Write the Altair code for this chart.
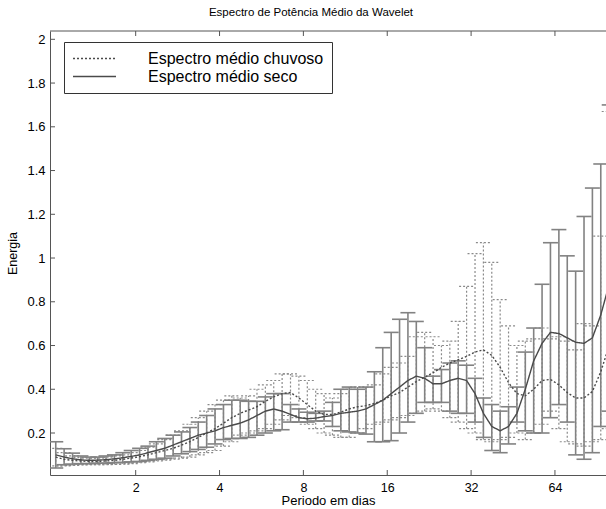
import altair as alt
import pandas as pd

# ---------------- data ----------------
periodo = [1.033, 1.107, 1.187, 1.272, 1.363, 1.461, 1.565, 1.678, 1.798, 1.927,
           2.066, 2.214, 2.373, 2.543, 2.726, 2.921, 3.131, 3.355, 3.596, 3.854,
           4.132, 4.428, 4.746, 5.086, 5.451, 5.842, 6.261, 6.710, 7.192, 7.708,
           8.264, 8.856, 9.492, 10.172, 10.902, 11.684, 12.522, 13.421, 14.384, 15.416,
           16.528, 17.713, 18.984, 20.345, 21.805, 23.368, 25.045, 26.842, 28.767, 30.831,
           33.056, 35.426, 37.968, 40.691, 43.610, 46.739, 50.090, 53.684, 57.535, 61.663,
           66.112, 70.853, 75.937, 81.383, 87.220, 93.478, 100.224]

chuvoso_media = [0.090, 0.080, 0.075, 0.072, 0.070, 0.070, 0.072, 0.075, 0.080, 0.085,
                 0.092, 0.100, 0.110, 0.120, 0.130, 0.145, 0.160, 0.180, 0.200, 0.220,
                 0.245, 0.270, 0.290, 0.305, 0.320, 0.345, 0.365, 0.380, 0.385, 0.360,
                 0.330, 0.300, 0.285, 0.285, 0.295, 0.310, 0.320, 0.325, 0.335, 0.350,
                 0.370, 0.385, 0.410, 0.435, 0.455, 0.475, 0.500, 0.520, 0.535, 0.550,
                 0.570, 0.580, 0.555, 0.500, 0.430, 0.380, 0.370, 0.400, 0.440, 0.445,
                 0.420, 0.385, 0.360, 0.360, 0.390, 0.480, 0.600]
chuvoso_inf = [0.050, 0.050, 0.052, 0.054, 0.055, 0.055, 0.055, 0.056, 0.058, 0.060,
               0.064, 0.068, 0.072, 0.076, 0.080, 0.085, 0.090, 0.100, 0.110, 0.120,
               0.140, 0.160, 0.190, 0.200, 0.210, 0.220, 0.240, 0.260, 0.280, 0.270,
               0.240, 0.220, 0.200, 0.190, 0.180, 0.180, 0.200, 0.220, 0.240, 0.250,
               0.260, 0.270, 0.280, 0.290, 0.300, 0.310, 0.300, 0.270, 0.250, 0.220,
               0.200, 0.170, 0.160, 0.170, 0.180, 0.200, 0.170, 0.200, 0.240, 0.300,
               0.220, 0.160, 0.150, 0.140, 0.160, 0.170, 0.220]
chuvoso_sup = [0.130, 0.110, 0.095, 0.088, 0.085, 0.085, 0.090, 0.095, 0.100, 0.110,
               0.120, 0.135, 0.150, 0.170, 0.190, 0.210, 0.240, 0.270, 0.300, 0.330,
               0.350, 0.370, 0.360, 0.370, 0.400, 0.420, 0.440, 0.470, 0.470, 0.460,
               0.440, 0.400, 0.380, 0.360, 0.380, 0.400, 0.410, 0.410, 0.420, 0.470,
               0.500, 0.520, 0.550, 0.640, 0.660, 0.640, 0.600, 0.620, 0.710, 0.870,
               1.020, 1.070, 0.980, 0.810, 0.690, 0.600, 0.620, 0.630, 0.680, 0.630,
               0.640, 0.620, 0.580, 0.700, 0.690, 1.100, 1.670]

seco_media = [0.100, 0.090, 0.082, 0.077, 0.075, 0.076, 0.078, 0.082, 0.087, 0.093,
              0.100, 0.110, 0.120, 0.130, 0.145, 0.160, 0.175, 0.190, 0.200, 0.210,
              0.225, 0.235, 0.245, 0.260, 0.280, 0.300, 0.310, 0.300, 0.285, 0.270,
              0.265, 0.268, 0.275, 0.280, 0.290, 0.295, 0.300, 0.310, 0.330, 0.350,
              0.380, 0.410, 0.440, 0.460, 0.450, 0.425, 0.425, 0.440, 0.450, 0.440,
              0.380, 0.290, 0.230, 0.210, 0.230, 0.290, 0.400, 0.530, 0.610, 0.660,
              0.655, 0.635, 0.615, 0.610, 0.635, 0.740, 0.880]
seco_inf = [0.040, 0.055, 0.058, 0.060, 0.060, 0.062, 0.062, 0.064, 0.066, 0.068,
            0.070, 0.075, 0.080, 0.085, 0.095, 0.105, 0.115, 0.125, 0.135, 0.150,
            0.170, 0.175, 0.175, 0.180, 0.190, 0.200, 0.210, 0.215, 0.250, 0.250,
            0.250, 0.255, 0.255, 0.230, 0.210, 0.205, 0.200, 0.195, 0.160, 0.160,
            0.165, 0.200, 0.250, 0.290, 0.340, 0.340, 0.340, 0.300, 0.290, 0.290,
            0.250, 0.180, 0.120, 0.110, 0.150, 0.250, 0.210, 0.200, 0.200, 0.270,
            0.330, 0.250, 0.100, 0.080, 0.110, 0.230, 0.300]
seco_sup = [0.160, 0.128, 0.108, 0.095, 0.090, 0.090, 0.095, 0.100, 0.110, 0.120,
            0.130, 0.140, 0.160, 0.175, 0.190, 0.205, 0.225, 0.250, 0.280, 0.310,
            0.330, 0.350, 0.350, 0.345, 0.345, 0.365, 0.380, 0.380, 0.330, 0.310,
            0.295, 0.290, 0.300, 0.340, 0.400, 0.410, 0.400, 0.410, 0.480, 0.590,
            0.660, 0.720, 0.750, 0.710, 0.590, 0.460, 0.490, 0.520, 0.530, 0.510,
            0.450, 0.360, 0.330, 0.300, 0.320, 0.410, 0.570, 0.680, 0.880, 1.070,
            1.130, 1.010, 0.940, 1.190, 1.320, 1.430, 1.700]

x_ticks = [2, 4, 8, 16, 32, 64]
y_ticks = [0.2, 0.4, 0.6, 0.8, 1, 1.2, 1.4, 1.6, 1.8, 2]

LAB_CHUV = "Espectro médio chuvoso"
LAB_SECO = "Espectro médio seco"

df = pd.concat([
    pd.DataFrame({"periodo": periodo, "media": chuvoso_media, "inf": chuvoso_inf,
                  "sup": chuvoso_sup, "serie": LAB_CHUV}),
    pd.DataFrame({"periodo": periodo, "media": seco_media, "inf": seco_inf,
                  "sup": seco_sup, "serie": LAB_SECO}),
], ignore_index=True)

# ---------------- layout ----------------
W, H = 556, 444
FONT = "Liberation Sans"
AXC = "#555555"
TICK = 5

xs = alt.Scale(type="log", base=2, domain=[0.985, 97.6], nice=False)
ys = alt.Scale(domain=[0.008, 2.038], nice=False, zero=False)

x_axis = alt.Axis(values=x_ticks, format="d", title="Periodo em dias", ticks=False,
                  tickSize=0, grid=False, labelFontSize=12.5, labelPadding=6,
                  titleFontSize=13, titleFontWeight="normal", titlePadding=1,
                  domainColor=AXC, labelColor="black", titleColor="black",
                  labelFont=FONT, titleFont=FONT)
y_axis = alt.Axis(values=y_ticks, format="~g", title="Energia", ticks=False,
                  tickSize=0, grid=False, labelFontSize=13, labelPadding=5,
                  titleFontSize=12.5, titleFontWeight="normal", titlePadding=7,
                  domainColor=AXC, labelColor="black", titleColor="black",
                  labelFont=FONT, titleFont=FONT)


def X(field):
    return alt.X(field, type="quantitative", scale=xs, axis=x_axis)


def Y(field):
    return alt.Y(field, type="quantitative", scale=ys, axis=y_axis)


base = alt.Chart(df)


def errorbars(label, color, width, dash=None):
    src = base.transform_filter(alt.datum.serie == label)
    kw = dict(color=color, strokeWidth=width, clip=True)
    if dash is not None:
        kw["strokeDash"] = dash
    vert = src.mark_rule(**kw).encode(x=X("periodo"), y=Y("inf"), y2="sup:Q")
    top = src.mark_rule(xOffset=-7.5, x2Offset=7.5, **kw).encode(
        x=X("periodo"), x2="periodo:Q", y=Y("sup"))
    bot = src.mark_rule(xOffset=-7.5, x2Offset=7.5, **kw).encode(
        x=X("periodo"), x2="periodo:Q", y=Y("inf"))
    return [vert, top, bot]


bars_chuv = errorbars(LAB_CHUV, "#8a8a8a", 1.2, [2, 2])
bars_seco = errorbars(LAB_SECO, "#828282", 1.6)

lines = base.mark_line(color="#4a4a4a", strokeWidth=1.4, clip=True).encode(
    x=X("periodo"),
    y=Y("media"),
    strokeDash=alt.StrokeDash(
        "serie:N",
        scale=alt.Scale(domain=[LAB_CHUV, LAB_SECO], range=[[2, 2], [1, 0]]),
        legend=alt.Legend(title=None, orient="none", legendX=14, legendY=11,
                          strokeColor="#333333", fillColor="white", padding=8,
                          symbolType="stroke", symbolSize=1850, clipHeight=17,
                          symbolStrokeWidth=1.3, symbolStrokeColor="#4a4a4a",
                          labelFontSize=16, labelFont=FONT, labelColor="black",
                          labelLimit=400, labelOffset=31, rowPadding=1,
                          cornerRadius=0),
    ),
    order="periodo:Q",
)

# frame and inward ticks
xt = alt.Chart(pd.DataFrame({"t": x_ticks}))
yt = alt.Chart(pd.DataFrame({"t": y_ticks}))
bottom_ticks = xt.mark_rule(color=AXC).encode(x=X("t"), y=alt.value(H), y2=alt.value(H - TICK))
top_ticks = xt.mark_rule(color=AXC).encode(x=X("t"), y=alt.value(0), y2=alt.value(TICK))
left_ticks = yt.mark_rule(color=AXC).encode(y=Y("t"), x=alt.value(0), x2=alt.value(TICK))
top_line = alt.Chart(pd.DataFrame({"a": [0]})).mark_rule(color=AXC).encode(
    x=alt.value(0), x2=alt.value(W), y=alt.value(0))

chart = alt.layer(
    *bars_chuv, *bars_seco, lines, bottom_ticks, top_ticks, left_ticks, top_line
).properties(
    width=W,
    height=H,
    background="white",
    autosize=alt.AutoSizeParams(type="none"),
    padding={"left": 50, "top": 31, "right": 0, "bottom": 34},
    title=alt.TitleParams("Espectro de Potência Médio da Wavelet", fontSize=11.5,
                          fontWeight="normal", font=FONT, anchor="middle", dx=-17,
                          offset=12, color="black"),
).configure_view(
    stroke=None
)

chart.save("out.html", embed_options={"renderer": "svg", "actions": False})
